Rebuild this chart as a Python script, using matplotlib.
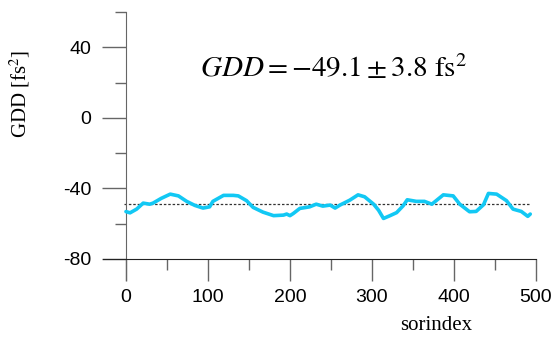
import matplotlib.pyplot as plt
from matplotlib.ticker import MultipleLocator

plt.rcParams['mathtext.fontset'] = 'stix'
plt.rcParams['font.family'] = ['Liberation Sans', 'DejaVu Sans']
plt.rcParams['axes.unicode_minus'] = False

# data
sor_index = [0, 5, 13, 21, 29, 33, 43, 54, 64, 74, 84, 94, 102, 106, 119, 131, 137,
             147, 155, 167, 180, 192, 196, 200, 204, 212, 224, 232, 240, 249, 255, 261,
             273, 283, 291, 302, 308, 314, 322, 330, 338, 343, 354, 364, 373, 387, 399,
             407, 419, 427, 436, 442, 452, 464, 472, 482, 490, 493]
gdd = [-53.2, -53.9, -51.8, -48.4, -49.0, -48.4, -45.7, -43.3, -44.3, -47.4, -49.7,
       -51.2, -50.5, -47.4, -44.0, -44.0, -44.3, -47.0, -50.8, -53.5, -55.5, -55.2,
       -54.6, -55.5, -54.3, -51.4, -50.5, -49.0, -50.1, -49.5, -51.2, -49.5, -46.7,
       -43.7, -44.8, -49.0, -52.4, -57.1, -55.5, -53.8, -49.9, -46.5, -47.4, -47.4,
       -49.0, -43.7, -44.3, -49.0, -53.3, -53.1, -49.3, -42.9, -43.3, -47.0, -51.8,
       -53.1, -55.9, -54.6]
gdd_mean = -49.1

W, H = 553, 338
fig = plt.figure(figsize=(W / 100, H / 100), dpi=100)
ax = fig.add_axes([103 / W, (H - 280) / H, 433 / W, 268 / H])

ax.plot(sor_index, gdd, color='#12C8F4', lw=2.6, solid_capstyle='round', zorder=3)
ax.plot([-3, 493], [gdd_mean, gdd_mean], color='#333333', ls=(0, (2, 1.5)), lw=0.9, zorder=2)

ax.set_xlim(-28, 500)
ax.set_ylim(-92, 60)

ax.spines['top'].set_visible(False)
ax.spines['right'].set_visible(False)
ax.spines['left'].set_position(('data', 0))
ax.spines['bottom'].set_position(('data', -80))
ax.spines['left'].set_color('#666666')
ax.spines['bottom'].set_color('#222222')

ax.xaxis.set_major_locator(MultipleLocator(100))
ax.xaxis.set_minor_locator(MultipleLocator(50))
ax.yaxis.set_major_locator(MultipleLocator(40))
ax.yaxis.set_minor_locator(MultipleLocator(20))

ax.tick_params(which='major', direction='out', length=16, width=1.0, color='#666666',
               labelsize=14, pad=6)
ax.tick_params(which='minor', direction='out', length=8, width=1.0, color='#666666')
ax.tick_params(axis='y', which='major', length=17, pad=8)

fig.text(20 / W, 1 - 94 / H, 'GDD [fs$^2$]', rotation=90, ha='center', va='center',
         family='Liberation Serif', fontsize=15)
fig.text(436 / W, 1 - 326 / H, 'sorindex', ha='center', va='center',
         family='Liberation Serif', fontsize=15)
fig.text(334 / W, 1 - 68 / H, r'$GDD = -49.1 \pm 3.8\ \mathrm{fs}^2$',
         ha='center', va='center', fontsize=21)

fig.savefig('out.png', dpi=100)
